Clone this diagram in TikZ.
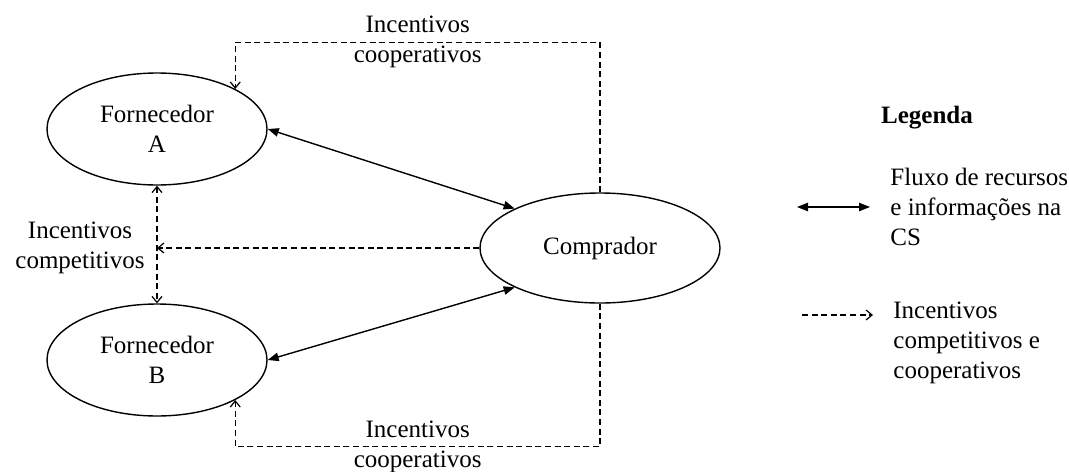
\documentclass[tikz,border=0pt]{standalone}
\usepackage{fontspec}
\setmainfont{Liberation Serif}
\usetikzlibrary{arrows.meta,shapes.geometric}
\begin{document}
\begin{tikzpicture}[x=0.5pt,y=-0.5pt,
  font=\fontsize{12.5pt}{15pt}\selectfont,
  ell/.style={ellipse,draw,line width=0.7pt,inner sep=0pt,align=center},
  flow/.style={line width=0.7pt,{Triangle[length=5.5pt,width=4.2pt]}-{Triangle[length=5.5pt,width=4.2pt]}},
  incent/.style={line width=0.6pt,dash pattern=on 3pt off 1.8pt,-{Straight Barb[length=3pt,width=5pt]}},
  incentboth/.style={incent,{Straight Barb[length=3pt,width=5pt]}-{Straight Barb[length=3pt,width=5pt]}},
  lbl/.style={align=center,inner sep=0pt},
  legtxt/.style={align=left,anchor=west,inner sep=0pt}]
\useasboundingbox (0,0) rectangle (1069,471);
\node[ell,minimum width=110pt,minimum height=56pt] (A) at (157,129) {Fornecedor\\A};
\node[ell,minimum width=110pt,minimum height=56pt] (B) at (157,360) {Fornecedor\\B};
\node[ell,minimum width=120pt,minimum height=55pt] (C) at (600,248) {Comprador};
\draw[flow] (A.east) -- (C.north west);
\draw[flow] (B.east) -- (C.south west);
\draw[incent] (C.north) -- ++(0,-150) -| node[lbl,pos=0.25] (lt) {Incentivos\\cooperativos} (A.north east);
\draw[incent] (C.south) -- ++(0,143) -| node[lbl,pos=0.25] (lb) {Incentivos\\cooperativos} (B.south east);
\draw[incentboth] (A.south) -- (B.north);
\draw[incent] (C.west) -- (C.west -| A.south);
\node[lbl] (lc) at (80,248) {Incentivos\\competitivos};
% legend
\node[font=\fontsize{12.5pt}{15pt}\selectfont\bfseries] (leg) at (927,118) {Legenda};
\coordinate (f1) at (797,207);
\coordinate (f2) at (870,207);
\draw[flow] (f1) -- (f2);
\node[legtxt] (ft) at (890,207) {Fluxo de recursos\\e informações na\\CS};
\coordinate (i1) at (802,315);
\coordinate (i2) at (873,315);
\draw[incent] (i1) -- (i2);
\node[legtxt] (it) at (893,343) {Incentivos\\competitivos e\\cooperativos};
\end{tikzpicture}
\end{document}
